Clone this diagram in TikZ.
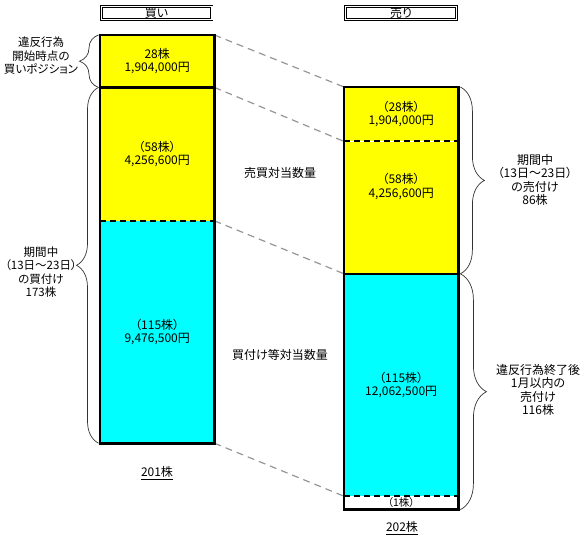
\documentclass[tikz,border=0pt]{standalone}
\usepackage{fontspec}
\setmainfont{Noto Sans CJK JP}[RawFeature=+palt]
\usepackage{tikz}
\usetikzlibrary{positioning, decorations.pathreplacing}
\definecolor{BlkYellow}{RGB}{255,255,0}
\definecolor{BlkCyan}{RGB}{0,255,255}
\definecolor{LinkGray}{RGB}{150,150,150}

\begin{document}
\begin{tikzpicture}[x=1pt, y=-1pt,
      blk/.style={rectangle, inner sep=0pt, minimum width=114pt, anchor=north west,
                  font=\fontsize{12}{13.5}\selectfont, align=center},
      lbl/.style={font=\fontsize{12}{13.5}\selectfont, align=center, inner sep=0pt},
      side/.style={font=\fontsize{11.5}{13.5}\selectfont, align=center, inner sep=0pt},
      hdr/.style={rectangle, draw, double, double distance=1.4pt, line width=0.9pt,
                  minimum width=110.6pt, minimum height=12.6pt, inner sep=0pt,
                  font=\fontsize{12}{13}\selectfont},
      frame/.style={line width=2.6pt},
      divide/.style={line width=1.8pt, dash pattern=on 6pt off 4pt},
      link/.style={LinkGray, line width=1.2pt, dash pattern=on 7pt off 5pt},
      curly/.style={decorate, decoration={brace, amplitude=#1}, line width=0.7pt, black!80}
    ]
    \useasboundingbox (0,0) rectangle (585,540);

    % Header row
    \node[hdr] (buyhdr)  at (156.5, 13) {買い};
    \node[hdr] (sellhdr) at (401, 13)   {売り};

    % Buy column
    \node[blk, fill=BlkYellow, minimum height=52pt] (lpos) at (100, 35) {28株\\1,904,000円};
    \node[blk, fill=BlkYellow, minimum height=133pt, below=0pt of lpos] (lbuy1) {（58株）\\4,256,600円};
    \node[blk, fill=BlkCyan, minimum height=222pt, below=0pt of lbuy1] (lbuy2) {（115株）\\9,476,500円};

    % Sell column
    \node[blk, fill=BlkYellow, minimum height=54pt] (rsell1) at (344, 87) {（28株）\\1,904,000円};
    \node[blk, fill=BlkYellow, minimum height=132pt, below=0pt of rsell1] (rsell2) {};
    \node[blk, fill=BlkCyan, minimum height=222pt, below=0pt of rsell2] (rsell3) {（115株）\\12,062,500円};
    \node[blk, fill=white, minimum height=13pt, below=0pt of rsell3] (rsell4) {};
    \node[lbl] (r58) at ([yshift=21pt]rsell2.center) {（58株）\\4,256,600円};
    \node[lbl, font=\fontsize{10.5}{11}\selectfont] (r1) at (rsell4.center) {（1株）};

    % Links between columns
    \draw[link] (lpos.north east)  -- (rsell1.north west);
    \draw[link] (lbuy1.north east) -- (rsell2.north west);
    \draw[link] (lbuy2.north east) -- (rsell3.north west);
    \draw[link] (lbuy2.south east) -- (rsell4.north west);

    % Outlines and dividers
    \draw[frame]  (lpos.north west) rectangle (lbuy2.south east);
    \draw[frame]  (lpos.south west) -- (lpos.south east);
    \draw[divide] (lbuy1.south west) -- (lbuy1.south east);
    \draw[frame]  (rsell1.north west) rectangle (rsell4.south east);
    \draw[frame]  (rsell2.south west) -- (rsell2.south east);
    \draw[divide] (rsell1.south west) -- (rsell1.south east);
    \draw[divide] (rsell3.south west) -- (rsell3.south east);

    % Middle labels
    \node[lbl] (match)    at (280, 173) {売買対当数量};
    \node[lbl] (buymatch) at (280, 355) {買付け等対当数量};

    % Totals
    \node[lbl] (buytotal)  at (157, 473) {\underline{201株}};
    \node[lbl] (selltotal) at (402, 528) {\underline{202株}};

    % Braces
    \draw[curly=19pt] ([xshift=-1.5pt]lpos.south west) -- ([xshift=-1.5pt]lpos.north west);
    \draw[curly=22pt] ([xshift=-1.5pt]lbuy2.south west) -- ([xshift=-1.5pt]lbuy1.north west);
    \draw[curly=24pt] ([xshift=2pt]rsell1.north east) -- ([xshift=2pt]rsell2.south east);
    \draw[curly=26pt] ([xshift=2pt]rsell3.north east) -- ([xshift=2pt]rsell4.south east);

    \node[side] (startpos) at (41, 56)  {違反行為\\開始時点の\\買いポジション};
    \node[side] (buyterm)  at (41, 272) {期間中\\（13日～23日）\\の買付け\\173株};
    \node[lbl] (sellterm) at (535, 180) {期間中\\（13日～23日）\\の売付け\\86株};
    \node[lbl] (sellafter) at (538, 390) {違反行為終了後\\1月以内の\\売付け\\116株};
  \end{tikzpicture}
\end{document}
